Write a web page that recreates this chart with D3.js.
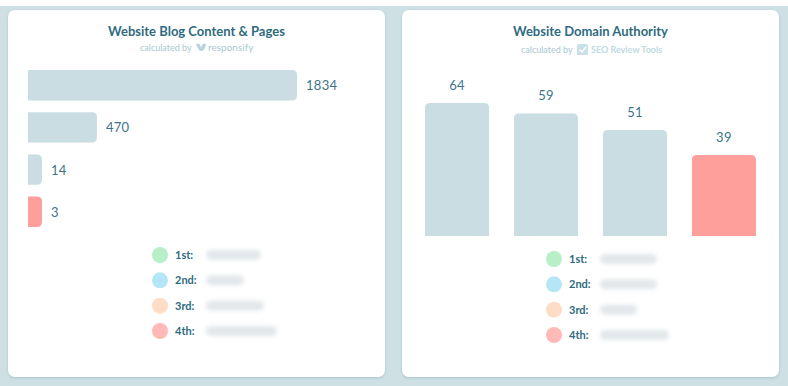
<!DOCTYPE html>
<html>
<head>
<meta charset="utf-8">
<script src="https://cdn.jsdelivr.net/npm/d3@7"></script>
<style>
  body { margin: 0; background: #ffffff; }
  svg { display: block; font-family: "Lato", "Open Sans", sans-serif; }
</style>
</head>
<body>
<svg id="chart" width="788" height="386"></svg>
<script>
// Blog content & pages (left panel)
const blogValues = [1834, 470, 14, 3];
// Domain authority (right panel)
const authorityValues = [64, 59, 51, 39];
const ranks = ['1st:', '2nd:', '3rd:', '4th:'];
const rankColors = ['#b6efc8', '#b5e6f8', '#ffdcc6', '#ffb9b6'];
// blurred site names, only their length is kept
const blogSiteWidths = [55, 38, 58, 71];
const authoritySiteWidths = [57, 57, 37, 69];

const barColor = '#c9dde3';
const ownColor = '#ff9f9c';
const titleColor = '#2f6b80';
const labelColor = '#3e7489';

const svg = d3.select('#chart');

const defs = svg.append('defs');
defs.append('filter').attr('id', 'blur')
  .attr('x', '-20%').attr('y', '-80%').attr('width', '140%').attr('height', '260%')
  .append('feGaussianBlur').attr('stdDeviation', 2.2);
const shadow = defs.append('filter').attr('id', 'shadow')
  .attr('x', '-5%').attr('y', '-5%').attr('width', '110%').attr('height', '110%');
shadow.append('feDropShadow').attr('dx', 0).attr('dy', 1).attr('stdDeviation', 1.5)
  .attr('flood-color', '#8fb1bb').attr('flood-opacity', 0.6);

// background
svg.append('rect').attr('x', 0).attr('y', 6).attr('width', 788).attr('height', 380).attr('fill', '#cfe0e5');

// cards
const cards = [{ x: 8, title: 'Website Blog Content & Pages' }, { x: 402, title: 'Website Domain Authority' }];
cards.forEach(c => {
  svg.append('rect')
    .attr('x', c.x).attr('y', 10).attr('width', 377).attr('height', 367)
    .attr('rx', 7).attr('fill', '#ffffff').attr('filter', 'url(#shadow)');
  svg.append('text')
    .attr('x', c.x + 188.5).attr('y', 36)
    .attr('text-anchor', 'middle')
    .attr('font-size', 13).attr('font-weight', 700)
    .attr('fill', titleColor)
    .text(c.title);
});

// subtitles
function subtitle(x0, y) {
  const g = svg.append('g').attr('fill', '#aac8d1').attr('font-size', 9);
  g.append('text').attr('x', x0).attr('y', y).text('calculated by');
  return g;
}
const sub1 = subtitle(140, 51);
sub1.append('path')
  .attr('d', 'M196,44 q4,-2 5,4 q1,-6 5,-4 q-1,6 -4,7 l-1,0 q-3,-1 -5,-7 z')
  .attr('fill', '#b9d3da');
sub1.append('text').attr('x', 208).attr('y', 51).attr('font-size', 10).text('responsify');

const sub2 = subtitle(521, 53);
sub2.append('rect').attr('x', 577).attr('y', 44).attr('width', 11).attr('height', 11).attr('rx', 1.5).attr('fill', '#c8e0e8');
sub2.append('path').attr('d', 'M579.5,49.5 l2.5,2.5 l4,-5').attr('fill', 'none').attr('stroke', '#ffffff').attr('stroke-width', 1.5);
sub2.append('text').attr('x', 591).attr('y', 53).attr('font-weight', 700).attr('fill', '#c0dae2').text('SEO Review Tools');

// rounded-end bar path helpers
function hBar(x, y, w, h, r) {
  r = Math.min(r, w);
  return `M${x},${y} H${x + w - r} Q${x + w},${y} ${x + w},${y + r} V${y + h - r} Q${x + w},${y + h} ${x + w - r},${y + h} H${x} Z`;
}
function vBar(x, y, w, h, r) {
  return `M${x},${y + h} V${y + r} Q${x},${y} ${x + r},${y} H${x + w - r} Q${x + w},${y} ${x + w},${y + r} V${y + h} Z`;
}

// left panel: horizontal bars
const xBlog = d3.scaleLinear().domain([0, d3.max(blogValues)]).range([28, 297]);
const yBlog = d3.scaleBand().domain(d3.range(blogValues.length)).range([70, 227]).paddingInner(0.28);

svg.append('g').selectAll('path')
  .data(blogValues)
  .join('path')
  .attr('d', (d, i) => hBar(xBlog(0), yBlog(i), Math.max(xBlog(d) - xBlog(0), 14), yBlog.bandwidth(), 5))
  .attr('fill', (d, i) => i === blogValues.length - 1 ? ownColor : barColor);

svg.append('g').selectAll('text')
  .data(blogValues)
  .join('text')
  .attr('x', d => xBlog(0) + Math.max(xBlog(d) - xBlog(0), 14) + 9)
  .attr('y', (d, i) => yBlog(i) + yBlog.bandwidth() / 2 + 5)
  .attr('font-size', 13).attr('fill', labelColor)
  .attr('letter-spacing', 0.3)
  .text(d => d);

// right panel: vertical bars
const xAuth = d3.scaleBand().domain(d3.range(authorityValues.length)).range([425, 756]).paddingInner(0.28);
const yAuth = d3.scaleLinear().domain([0, d3.max(authorityValues)]).range([236, 103]);

svg.append('g').selectAll('path')
  .data(authorityValues)
  .join('path')
  .attr('d', (d, i) => vBar(xAuth(i), yAuth(d), xAuth.bandwidth(), yAuth(0) - yAuth(d), 5))
  .attr('fill', (d, i) => i === authorityValues.length - 1 ? ownColor : barColor);

svg.append('g').selectAll('text')
  .data(authorityValues)
  .join('text')
  .attr('x', (d, i) => xAuth(i) + xAuth.bandwidth() / 2)
  .attr('y', d => yAuth(d) - 13)
  .attr('text-anchor', 'middle')
  .attr('font-size', 13).attr('fill', labelColor)
  .attr('letter-spacing', 0.3)
  .text(d => d);

// legends
function legend(cx, y0, widths) {
  const yL = d3.scalePoint().domain(d3.range(ranks.length)).range([y0, y0 + 76]);
  const g = svg.append('g');
  g.selectAll('circle').data(ranks).join('circle')
    .attr('cx', cx).attr('cy', (d, i) => yL(i)).attr('r', 8)
    .attr('fill', (d, i) => rankColors[i]);
  g.selectAll('text').data(ranks).join('text')
    .attr('x', cx + 15).attr('y', (d, i) => yL(i) + 4)
    .attr('font-size', 11).attr('font-weight', 700).attr('fill', titleColor)
    .text(d => d);
  g.selectAll('rect').data(widths).join('rect')
    .attr('x', cx + 46).attr('y', (d, i) => yL(i) - 5)
    .attr('width', d => d).attr('height', 10).attr('rx', 5)
    .attr('fill', '#e3e7ea').attr('filter', 'url(#blur)');
}
legend(160, 255, blogSiteWidths);
legend(554, 259, authoritySiteWidths);
</script>
</body>
</html>
